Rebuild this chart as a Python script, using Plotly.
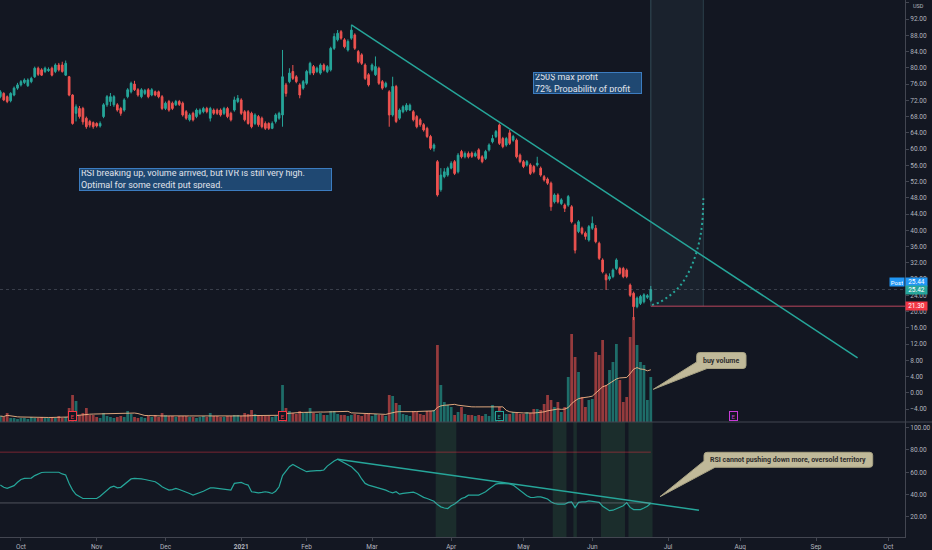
import pandas as pd
import plotly.graph_objects as go

BG = "#131722"
UP = "#26a69a"
DOWN = "#ef5350"
TICK = "#b2b5be"
EDGE = "#434651"
FONT = "Roboto"

HOLIDAYS = ["2020-11-26", "2020-12-25", "2021-01-01", "2021-01-18", "2021-02-15",
            "2021-04-02", "2021-05-31", "2021-07-05", "2021-09-06"]

# daily bars, Sep 23 2020 .. Jun 24 2021 (bar centre at noon)
dates = pd.bdate_range("2020-09-23", "2021-06-24", freq="C", holidays=HOLIDAYS) + pd.Timedelta(hours=12)

opens = [72.9, 73.7, 72.9, 71.9, 73.3, 75.0, 75.8, 76.4, 75.6, 76.6,
         77.8, 79.9, 79.5, 79.1, 79.3, 79.9, 79.1, 80.7, 80.7, 78.2,
         77.8, 73.3, 68.8, 70.0, 70.0, 67.6, 66.8, 66.5, 66.3, 65.7,
         68.0, 70.9, 71.7, 70.9, 70.9, 70.0, 69.6, 72.9, 74.1, 76.0,
         74.6, 72.9, 73.7, 74.6, 73.3, 74.1, 74.1, 72.9, 70.0, 71.7,
         71.3, 70.9, 71.7, 71.3, 69.2, 67.2, 68.8, 68.0, 68.8, 69.2,
         70.0, 67.6, 69.6, 69.6, 69.6, 68.8, 70.0, 68.8, 69.6, 71.7,
         72.1, 69.2, 69.2, 68.8, 66.3, 68.0, 67.6, 66.3, 66.3, 65.1,
         66.8, 67.6, 68.4, 75.8, 76.6, 79.1, 77.8, 75.8, 75.0, 76.2,
         78.7, 80.3, 79.1, 78.7, 80.7, 79.1, 79.5, 84.8, 86.9, 88.9,
         86.9, 84.4, 87.3, 88.1, 84.0, 83.2, 80.7, 78.3, 79.5, 78.3,
         79.9, 76.6, 75.4, 74.1, 68.4, 75.4, 67.6, 69.2, 69.6, 69.6,
         69.2, 68.0, 67.2, 66.0, 65.1, 63.1, 60.2, 56.9, 50.0, 53.2,
         53.6, 55.3, 56.9, 54.4, 59.4, 58.1, 58.9, 59.0, 58.3, 59.8,
         58.1, 57.7, 59.8, 61.8, 63.1, 65.9, 62.6, 61.0, 64.0, 62.2,
         62.2, 58.5, 56.9, 56.1, 56.1, 55.7, 56.1, 55.3, 53.2, 52.6,
         51.6, 47.0, 48.7, 46.6, 46.2, 46.2, 45.8, 41.3, 39.7, 40.5,
         39.3, 37.6, 40.5, 40.5, 36.8, 32.7, 29.0, 28.0, 28.6, 30.6,
         30.6, 30.6, 30.2, 26.5, 24.5, 21.2, 22.0, 22.4, 23.5, 22.8]

highs = [74.5, 74.0, 73.2, 74.0, 75.4, 76.3, 77.0, 77.4, 77.4, 77.8,
         80.3, 80.3, 79.9, 80.3, 80.1, 80.3, 81.1, 81.2, 81.5, 81.8,
         78.0, 73.5, 71.0, 70.6, 70.4, 68.0, 67.2, 66.8, 66.6, 66.8,
         71.3, 73.3, 73.8, 73.3, 71.3, 70.4, 72.5, 75.0, 76.6, 76.8,
         75.0, 75.0, 74.8, 75.0, 75.0, 74.4, 74.4, 73.3, 71.7, 72.1,
         71.7, 72.1, 72.1, 71.7, 69.6, 68.8, 69.2, 70.0, 70.0, 70.4,
         70.4, 70.4, 70.0, 70.0, 70.0, 70.4, 70.4, 69.2, 72.9, 73.3,
         72.5, 69.6, 69.6, 69.2, 68.8, 68.4, 68.0, 66.8, 66.6, 66.8,
         68.8, 69.2, 84.4, 76.3, 79.9, 80.7, 78.2, 76.2, 77.0, 79.5,
         81.5, 80.7, 80.3, 81.1, 81.1, 80.7, 85.2, 88.5, 89.3, 89.3,
         87.3, 87.0, 90.6, 88.5, 84.4, 83.6, 81.1, 78.7, 81.1, 82.8,
         80.3, 77.0, 76.6, 74.5, 77.8, 75.8, 70.0, 70.8, 71.3, 71.2,
         69.6, 68.4, 67.6, 66.4, 65.5, 63.5, 61.4, 57.3, 55.3, 55.3,
         55.7, 57.0, 57.3, 59.0, 59.8, 59.4, 59.4, 59.4, 59.4, 60.2,
         58.5, 59.8, 61.4, 63.5, 64.7, 66.3, 63.0, 63.0, 64.7, 63.5,
         62.6, 58.9, 57.3, 57.3, 56.5, 56.1, 58.1, 55.7, 53.6, 53.0,
         52.0, 49.1, 49.1, 47.9, 46.6, 48.7, 46.2, 41.7, 42.5, 40.9,
         39.7, 41.3, 43.4, 41.3, 37.2, 33.1, 29.4, 29.4, 30.6, 33.1,
         31.0, 31.0, 30.6, 26.9, 24.9, 23.7, 24.1, 24.5, 24.3, 26.3]

lows = [72.5, 71.8, 71.3, 71.5, 73.0, 74.6, 75.4, 76.0, 75.3, 76.2,
        77.5, 78.0, 78.0, 78.7, 79.0, 77.9, 78.7, 79.1, 78.8, 78.0,
        73.0, 66.0, 66.8, 67.5, 66.0, 65.0, 65.3, 65.0, 65.3, 65.3,
        67.6, 70.4, 70.6, 70.4, 69.2, 68.2, 69.2, 72.5, 73.7, 74.3,
        72.9, 72.5, 73.3, 72.5, 73.0, 73.0, 72.5, 69.6, 69.6, 69.2,
        69.6, 70.6, 70.6, 68.0, 67.2, 66.8, 66.8, 67.6, 68.4, 68.8,
        68.8, 66.8, 68.4, 68.4, 68.0, 68.4, 67.6, 66.8, 69.2, 71.3,
        68.4, 66.8, 66.0, 65.1, 65.9, 65.5, 65.1, 64.7, 64.7, 64.9,
        66.3, 67.2, 65.5, 72.9, 76.2, 77.0, 76.2, 72.5, 74.6, 75.8,
        78.2, 78.2, 78.7, 78.3, 79.1, 78.7, 79.1, 84.4, 86.5, 86.9,
        84.8, 84.0, 86.9, 84.4, 81.1, 80.7, 77.0, 75.4, 79.1, 78.0,
        75.8, 74.6, 75.0, 65.5, 68.0, 66.4, 67.2, 68.8, 69.2, 69.4,
        66.8, 65.1, 65.5, 64.3, 62.7, 59.8, 59.4, 48.3, 49.5, 52.8,
        53.2, 55.0, 53.6, 54.0, 57.7, 57.7, 57.7, 57.8, 58.0, 57.3,
        56.5, 57.3, 59.4, 61.4, 62.7, 61.0, 60.2, 60.6, 61.0, 61.8,
        57.7, 56.5, 55.3, 55.7, 53.6, 54.0, 55.7, 53.2, 52.0, 51.2,
        44.8, 46.6, 46.6, 46.2, 44.5, 45.8, 41.7, 34.3, 39.3, 38.9,
        37.7, 37.2, 40.1, 36.8, 32.7, 29.4, 25.3, 27.6, 28.2, 30.2,
        29.0, 28.2, 28.2, 23.6, 17.9, 20.8, 21.6, 22.0, 23.1, 22.4]

closes = [74.1, 72.1, 71.7, 73.7, 75.0, 75.8, 76.6, 77.0, 77.0, 77.4,
          79.9, 78.4, 78.2, 79.9, 79.6, 78.2, 80.7, 79.5, 79.1, 81.1,
          73.3, 66.3, 70.4, 68.0, 66.7, 65.5, 65.9, 65.5, 65.7, 66.3,
          70.9, 72.9, 72.9, 72.9, 69.6, 68.8, 72.1, 74.6, 76.2, 74.6,
          73.3, 74.6, 74.4, 72.9, 74.6, 73.3, 72.9, 70.0, 71.3, 69.6,
          70.0, 71.7, 71.0, 68.4, 67.6, 68.4, 67.2, 69.6, 69.6, 70.0,
          69.2, 70.0, 68.8, 68.8, 68.4, 70.0, 68.0, 67.2, 72.1, 72.5,
          68.8, 67.2, 66.3, 65.5, 68.4, 66.0, 65.5, 65.1, 65.1, 66.3,
          68.4, 68.8, 77.8, 73.7, 78.7, 77.4, 76.6, 73.3, 76.6, 79.1,
          81.1, 78.7, 79.9, 80.7, 79.5, 80.3, 84.8, 87.7, 88.5, 87.3,
          85.2, 86.5, 89.3, 84.8, 81.5, 81.1, 77.4, 75.8, 80.7, 80.3,
          76.2, 75.0, 76.2, 68.4, 75.4, 66.8, 69.6, 70.4, 70.8, 70.8,
          67.2, 65.5, 66.0, 64.7, 63.1, 60.2, 61.0, 48.7, 53.6, 54.4,
          55.3, 56.5, 54.0, 58.5, 58.1, 58.9, 58.1, 58.2, 58.9, 57.7,
          56.9, 59.4, 61.0, 62.6, 64.3, 61.4, 60.6, 62.6, 61.4, 63.1,
          58.1, 56.9, 55.7, 56.9, 54.0, 54.4, 56.5, 53.6, 52.4, 51.6,
          45.8, 48.7, 47.0, 47.5, 45.4, 48.3, 42.1, 35.1, 42.1, 39.3,
          38.5, 40.9, 41.7, 37.2, 33.1, 29.8, 27.8, 28.6, 30.2, 32.7,
          29.4, 28.6, 28.6, 24.0, 21.2, 23.3, 23.7, 24.1, 23.9, 25.42]

# volume, millions of shares
volume = [0.6, 0.5, 0.9, 0.4, 0.4, 0.3, 0.4, 0.4, 0.3, 0.5,
          0.4, 0.4, 0.5, 0.4, 0.4, 0.5, 0.4, 0.6, 0.4, 0.5,
          1.4, 2.7, 2.1, 0.7, 0.9, 1.4, 0.7, 0.7, 0.5, 0.4,
          0.9, 0.6, 0.5, 0.4, 0.5, 0.6, 0.5, 1.1, 0.8, 0.5,
          0.4, 0.5, 0.4, 0.6, 0.5, 0.7, 0.5, 0.9, 0.7, 0.6,
          0.6, 0.5, 0.6, 0.6, 0.6, 0.5, 0.5, 0.4, 0.5, 0.6,
          0.5, 0.9, 0.6, 0.6, 0.5, 0.5, 0.6, 0.6, 0.7, 0.7,
          0.6, 0.9, 0.8, 1.2, 0.8, 0.7, 0.6, 0.6, 0.6, 0.5,
          0.6, 0.7, 3.7, 1.4, 1.1, 0.9, 0.8, 1.1, 0.9, 1.0,
          1.4, 0.9, 0.8, 0.9, 0.7, 0.7, 1.1, 1.1, 0.8, 0.7,
          0.7, 0.6, 0.7, 0.8, 0.7, 0.6, 0.8, 0.9, 0.6, 0.8,
          0.7, 0.7, 0.6, 2.7, 2.6, 1.9, 1.7, 0.8, 0.7, 0.6,
          1.1, 1.0, 0.8, 0.7, 1.1, 1.1, 1.2, 7.7, 3.7, 2.0,
          1.7, 1.5, 0.7, 1.0, 1.5, 0.8, 0.7, 0.7, 0.6, 0.7,
          0.6, 0.8, 0.6, 1.7, 1.0, 1.5, 0.8, 0.8, 0.8, 1.0,
          0.9, 0.8, 0.8, 1.0, 0.9, 1.3, 1.3, 1.2, 1.8, 2.7,
          2.2, 1.5, 2.0, 1.0, 1.5, 4.5, 8.8, 6.5, 5.0, 2.5,
          1.5, 2.2, 2.3, 7.0, 6.7, 8.2, 3.7, 5.2, 6.0, 7.8,
          4.2, 2.0, 2.5, 8.5, 10.5, 7.7, 6.0, 5.7, 2.2, 4.5]

rsi = [48.5, 46.5, 45.5, 46.5, 48.0, 51.0, 53.5, 54.5, 54.5, 54.8,
       57.0, 58.5, 59.8, 60.0, 60.0, 60.2, 60.5, 60.0, 58.5, 57.5,
       50.0, 44.0, 40.0, 38.0, 36.5, 36.5, 36.5, 36.5, 36.5, 38.5,
       41.0, 43.5, 46.5, 47.5, 46.0, 46.5, 49.0, 51.0, 54.0, 54.5,
       54.5, 54.0, 53.5, 53.0, 52.0, 51.5, 49.5, 47.0, 45.5, 44.0,
       44.5, 45.5, 44.5, 43.5, 42.5, 41.0, 39.5, 40.5, 42.0, 43.0,
       44.5, 46.0, 46.0, 45.5, 45.5, 45.0, 44.5, 44.0, 50.0, 50.5,
       50.9, 49.5, 48.5, 42.5, 42.0, 41.6, 42.0, 42.5, 42.0, 41.0,
       43.0, 47.0, 57.0, 61.0, 65.0, 67.0, 65.0, 63.5, 62.0, 60.5,
       61.0, 61.4, 61.4, 61.4, 62.0, 65.5, 68.0, 70.0, 71.6, 70.0,
       68.0, 66.5, 65.0, 62.0, 59.0, 54.0, 50.0, 48.5, 47.6, 47.0,
       46.4, 45.0, 44.0, 42.5, 41.6, 42.5, 40.4, 41.0, 41.6, 42.0,
       42.2, 41.0, 39.0, 37.5, 36.5, 35.0, 34.0, 31.0, 29.0, 28.0,
       27.5, 30.0, 31.5, 34.0, 36.5, 37.5, 39.5, 39.5, 39.5, 39.5,
       41.0, 42.5, 45.0, 47.5, 49.4, 50.0, 50.0, 50.0, 49.5, 48.5,
       46.0, 43.5, 41.0, 39.0, 37.5, 37.4, 38.0, 38.0, 37.0, 36.0,
       33.5, 32.0, 31.5, 31.4, 31.4, 33.0, 33.5, 28.4, 33.0, 33.5,
       33.5, 34.4, 34.0, 33.5, 33.0, 29.6, 27.5, 25.6, 26.0, 27.5,
       29.0, 30.0, 32.8, 28.5, 26.6, 26.6, 26.6, 28.0, 29.6, 32.2]

RSI_HIGH = 78
RSI_LOW = 32.5

month_ticks = ["2020-10-01", "2020-11-02", "2020-12-01", "2021-01-04", "2021-02-01", "2021-03-01",
               "2021-04-01", "2021-05-03", "2021-06-01", "2021-07-01", "2021-08-02", "2021-09-01",
               "2021-10-01"]
month_labels = ["Oct", "Nov", "Dec", "<b>2021</b>", "Feb", "Mar", "Apr", "May", "Jun", "Jul", "Aug",
                "Sep", "Oct"]

earn_dates = ["2020-10-22 12:00", "2021-01-21 12:00", "2021-04-22 12:00", "2021-07-29 12:00"]
earn_colors = ["#f23645", "#f23645", "#26a69a", "#c73bd6"]

# expected move projection drawn to the right of the last bar
proj_dates = ["2021-06-24 20:25", "2021-06-29 06:15", "2021-07-02 06:10", "2021-07-08 03:50",
              "2021-07-12 14:00", "2021-07-14 12:30", "2021-07-15 18:30", "2021-07-16 11:15",
              "2021-07-16 18:15"]
proj_prices = [21.6, 22.4, 24.1, 26.5, 29.8, 33.9, 38.0, 42.1, 47.9]

strike = 21.30
post_price = 25.44
trend_price = [(dates[102], 90.6), ("2021-09-20 14:00", 8.6)]
trend_rsi = [(dates[98], 71.6), ("2021-07-15 12:00", 26.0)]
box_end = "2021-07-16 18:15"

X_RANGE = ["2020-09-23 09:55", "2021-10-08 08:30"]
P_RANGE = [-7.2, 96.7]
R_RANGE = [2, 105]
VOL_TOP = 42.2

# plot area in pixels (margins l=0 r=27 t=0 b=13)
PW, PH = 905, 537
SPLIT = 1 - 422 / PH


def px(x, y):
    return x / PW, 1 - y / PH


def callout_path(box, base_a, base_b, tip, r=3):
    x0, y0, x1, y1 = box

    def p(x, y):
        u, v = px(x, y)
        return f"{u:.5f},{v:.5f}"

    return (f"M{p(x0 + r, y0)} L{p(x1 - r, y0)} Q{p(x1, y0)} {p(x1, y0 + r)} "
            f"L{p(x1, y1 - r)} Q{p(x1, y1)} {p(x1 - r, y1)} L{p(*base_b)} L{p(*tip)} "
            f"L{p(*base_a)} L{p(x0, y0 + r)} Q{p(x0, y0)} {p(x0 + r, y0)} Z")


vol_colors = ["rgba(38,166,154,0.6)" if c >= o else "rgba(239,83,80,0.6)" for o, c in zip(opens, closes)]
vol_ma = pd.Series(volume).rolling(20, min_periods=1).mean()

fig = go.Figure()

fig.add_bar(x=dates, y=volume, marker=dict(color=vol_colors, line=dict(width=0)),
            yaxis="y3", hoverinfo="skip")
fig.add_scatter(x=dates, y=vol_ma, mode="lines", line=dict(color="rgba(255,190,140,0.85)", width=1),
                yaxis="y3", hoverinfo="skip")

fig.add_candlestick(x=dates, open=opens, high=highs, low=lows, close=closes,
                    increasing=dict(line=dict(color=UP, width=1), fillcolor=UP),
                    decreasing=dict(line=dict(color=DOWN, width=1), fillcolor=DOWN),
                    whiskerwidth=0, hoverinfo="skip")

fig.add_scatter(x=proj_dates, y=proj_prices, mode="lines", line=dict(color=UP, width=2, dash="2px,3px",
                shape="spline"), hoverinfo="skip")

fig.add_scatter(x=dates, y=rsi, mode="lines", line=dict(color=UP, width=1.2), yaxis="y2", hoverinfo="skip")

shapes = []

# oversold highlight bars in the RSI pane
i = 0
while i < len(rsi):
    if rsi[i] < RSI_LOW:
        j = i
        while j + 1 < len(rsi) and rsi[j + 1] < RSI_LOW:
            j += 1
        shapes.append(dict(type="rect", xref="x", yref="y2 domain",
                           x0=dates[i] - pd.Timedelta(hours=12), x1=dates[j] + pd.Timedelta(hours=12),
                           y0=0, y1=1, fillcolor="rgba(76,160,100,0.16)", line=dict(width=0), layer="below"))
        i = j + 1
    else:
        i += 1

# projection window
shapes.append(dict(type="rect", xref="x", yref="y", x0=dates[-1], x1=box_end, y0=strike, y1=P_RANGE[1],
                   fillcolor="rgba(110,170,180,0.08)", line=dict(width=0), layer="below"))
for xv, col in [(dates[-1], "rgba(110,170,180,0.35)"), (box_end, "rgba(110,170,180,0.25)")]:
    shapes.append(dict(type="line", xref="x", yref="y", x0=xv, x1=xv, y0=strike, y1=P_RANGE[1],
                       line=dict(color=col, width=1)))

# last price line and strike line
shapes.append(dict(type="line", xref="paper", yref="y", x0=0, x1=1, y0=closes[-1], y1=closes[-1],
                   line=dict(color="rgba(130,135,150,0.35)", width=1, dash="dot")))
shapes.append(dict(type="line", xref="x", yref="y", x0=dates[-1], x1=X_RANGE[1], y0=strike, y1=strike,
                   line=dict(color="rgba(205,75,100,0.6)", width=1.5)))

# trend lines
(a, b), (c, d) = trend_price
shapes.append(dict(type="line", xref="x", yref="y", x0=a, y0=b, x1=c, y1=d, line=dict(color=UP, width=1.5)))
(a, b), (c, d) = trend_rsi
shapes.append(dict(type="line", xref="x", yref="y2", x0=a, y0=b, x1=c, y1=d, line=dict(color=UP, width=1.5)))

# RSI bands
shapes.append(dict(type="line", xref="x", yref="y2", x0=X_RANGE[0], x1=dates[-1], y0=RSI_HIGH, y1=RSI_HIGH,
                   line=dict(color="rgba(242,54,69,0.45)", width=1)))
shapes.append(dict(type="line", xref="x", yref="y2", x0=X_RANGE[0], x1=dates[-1], y0=RSI_LOW, y1=RSI_LOW,
                   line=dict(color="rgba(150,155,165,0.45)", width=1)))

# pane separator
shapes.append(dict(type="line", xref="paper", yref="paper", x0=0, x1=932 / PW, y0=SPLIT, y1=SPLIT,
                   line=dict(color=EDGE, width=1)))

# callouts
CALLOUT_FILL = "rgba(205,198,163,0.93)"
shapes.append(dict(type="path", xref="paper", yref="paper",
                   path=callout_path((696.7, 352.5, 746, 368.5), (696.7, 362), (707, 368.5), (653.3, 389.3)),
                   fillcolor=CALLOUT_FILL, line=dict(color="#a8a283", width=1)))
shapes.append(dict(type="path", xref="paper", yref="paper",
                   path=callout_path((704, 452.3, 872.7, 467.3), (704, 461), (715, 467.3), (660, 496.7)),
                   fillcolor=CALLOUT_FILL, line=dict(color="#a8a283", width=1)))

annotations = []


def add_note(text, x, y, size=7, color="#2d2d2d"):
    u, v = px(x, y)
    annotations.append(dict(text=text, x=u, y=v, xref="paper", yref="paper", showarrow=False,
                            xanchor="center", yanchor="middle",
                            font=dict(family=FONT, size=size, color=color)))


add_note("<b>buy volume</b>", 721.3, 360.5)
add_note("<b>RSI cannot pushing down more, oversold territory</b>", 788.3, 459.8)

# blue text boxes
for text, (x0, y0, x1, y1) in [
    ("RSI breaking up, volume arrived, but IVR is still very high.<br>Optimal for some credit put spread.",
     (79.3, 168.3, 332.7, 191)),
    ("250$ max profit<br>72% Propability of profit", (532.7, 71.7, 641.3, 94)),
]:
    u, v = px(x0, y0)
    annotations.append(dict(text=text, x=u, y=v, xref="paper", yref="paper", xanchor="left", yanchor="top",
                            showarrow=False, align="left", valign="middle", width=x1 - x0 - 4,
                            height=y1 - y0 - 4, bgcolor="#1f4872", bordercolor="#3c7cc0", borderwidth=1,
                            borderpad=1, font=dict(family=FONT, size=9, color="#e0e3eb")))

# earnings markers
for dt, col in zip(earn_dates, earn_colors):
    annotations.append(dict(text="E", x=dt, y=-5.7, xref="x", yref="y", showarrow=False,
                            xanchor="center", yanchor="middle",
                            font=dict(family=FONT, size=6, color=col), bgcolor=BG, bordercolor=col,
                            borderwidth=1, borderpad=0.5, width=6, height=7))

# price axis tags
for text, yv, col in [(f"{post_price:.2f}", 27.3, "#2196f3"), (f"{closes[-1]:.2f}", closes[-1], UP),
                      (f"{strike:.2f}", strike, "#f23645")]:
    annotations.append(dict(text=text, x=1.0, y=yv, xref="paper", yref="y", xanchor="left", yanchor="middle",
                            showarrow=False, font=dict(family=FONT, size=6.5, color="white"), bgcolor=col,
                            borderpad=1, width=19, height=6))
annotations.append(dict(text="Post", x=1.0, y=27.3, xref="paper", yref="y", xanchor="right", yanchor="middle",
                        showarrow=False, font=dict(family=FONT, size=6, color="white"), bgcolor="#2196f3",
                        borderpad=1, width=12, height=6))
annotations.append(dict(text="USD", x=918 / PW, y=px(0, 6.5)[1], xref="paper", yref="paper", showarrow=False,
                        xanchor="center", yanchor="middle",
                        font=dict(family=FONT, size=5.5, color=TICK), bgcolor=BG))

axis_common = dict(side="right", tickformat=".2f", showgrid=False, zeroline=False, showline=True,
                   linecolor=EDGE, ticks="outside", ticklen=3, tickcolor=EDGE,
                   tickfont=dict(family=FONT, size=6.5, color=TICK))

fig.update_layout(
    width=932, height=550,
    margin=dict(l=0, r=27, t=0, b=13),
    paper_bgcolor=BG, plot_bgcolor=BG,
    showlegend=False,
    bargap=0.2,
    hovermode=False,
    xaxis=dict(type="date", range=X_RANGE, anchor="y2",
               rangebreaks=[dict(bounds=["sat", "mon"]), dict(values=HOLIDAYS)],
               rangeslider=dict(visible=False),
               tickvals=[pd.Timestamp(t) + pd.Timedelta(hours=12) for t in month_ticks], ticktext=month_labels,
               tickfont=dict(family=FONT, size=6.5, color=TICK), ticks="outside", ticklen=3, tickcolor=EDGE,
               showgrid=False, zeroline=False, showline=True, linecolor=EDGE),
    yaxis=dict(domain=[SPLIT, 1], range=P_RANGE, tick0=0, dtick=4, **axis_common),
    yaxis2=dict(domain=[0, SPLIT], range=R_RANGE, tickvals=[20, 40, 60, 80, 100], **axis_common),
    yaxis3=dict(overlaying="y", range=[0, VOL_TOP], visible=False),
    shapes=shapes,
    annotations=annotations,
)

fig.write_html("out.html", config=dict(displayModeBar=False),
               post_script="document.body.style.margin='0';document.body.style.overflow='hidden';")
